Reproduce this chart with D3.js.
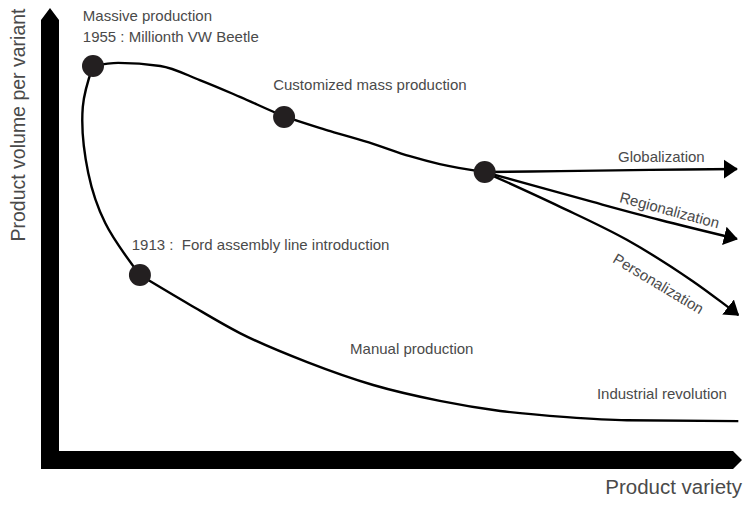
<!DOCTYPE html>
<html>
<head>
<meta charset="utf-8">
<script src="https://cdn.jsdelivr.net/npm/d3@7"></script>
<style>
  body { margin: 0; background: #fff; }
  svg { display: block; }
  text { font-family: 'Liberation Sans', Arial, sans-serif; fill: #4a4a4a; }
</style>
</head>
<body>
<div id="chart"></div>
<script>
// conceptual chart: both axes run 0..100 (no units shown)
// Ford 1913 -> industrial revolution (x increasing)
const industrialCurve = [
  [11.9, 40.0], [19.3, 33.2], [26.6, 26.8], [36.5, 20.2], [46.2, 15.0], [56.0, 11.4],
  [64.9, 9.1], [74.7, 7.7], [83.5, 7.0], [99.9, 6.8]
];
// Ford 1913 -> massive production
const manualCurve = [[11.9, 40.0], [6.8, 51.8], [4.3, 63.2], [3.5, 78.2], [5.0, 87.5]];
// massive production -> customized -> branch point
const massCurve = [
  [5.0, 87.5], [8.7, 88.2], [14.9, 87.5], [20.7, 84.3], [26.6, 80.5], [33.1, 76.1],
  [39.9, 72.7], [46.2, 69.8], [51.6, 67.0], [56.0, 65.2], [62.6, 63.4]
];
const globalization = [[62.6, 63.4], [73.7, 63.6], [86.9, 63.9], [99.7, 64.1]];
const regionalization = [[62.6, 63.4], [78.5, 56.6], [88.4, 52.5], [99.7, 48.2]];
const personalization = [[62.6, 63.4], [73.7, 55.5], [83.5, 48.0], [93.2, 38.6], [99.9, 30.9]];

const milestones = [[5.0, 87.5], [33.1, 75.9], [62.6, 63.4], [11.9, 40.0]];

const labels = ['Massive production', '1955 : Millionth VW Beetle', 'Customized mass production',
  'Globalization', 'Regionalization', 'Personalization',
  '1913 :  Ford assembly line introduction', 'Manual production', 'Industrial revolution'];
const labelX = [3.5, 3.5, 31.5, 82.2, 82.3, 81.3, 10.7, 42.8, 79.1];
const labelY = [97.7, 93.0, 82.0, 65.7, 56.6, 43.0, 45.7, 22.0, 11.8];
const labelAngle = [0, 0, 0, 0, 15, 31, 0, 0, 0];

const xTitle = 'Product variety';
const yTitle = 'Product volume per variant';

const width = 745, height = 505;
const axisW = 18;

const svg = d3.select('#chart').append('svg')
  .attr('width', width)
  .attr('height', height);

const x = d3.scaleLinear().domain([0, 100]).range([59, 739]);
const y = d3.scaleLinear().domain([0, 100]).range([451, 11]);

// thick L-shaped axes with pointed ends
const x0 = x.range()[0], y0 = y.range()[0];
const axisPath = d3.path();
axisPath.moveTo(x0 - axisW, y0 + axisW);
axisPath.lineTo(x0 - axisW, 20);
axisPath.lineTo(x0 - axisW / 2, 8);
axisPath.lineTo(x0, 20);
axisPath.lineTo(x0, y0);
axisPath.lineTo(733, y0);
axisPath.lineTo(742, y0 + axisW / 2);
axisPath.lineTo(733, y0 + axisW);
axisPath.closePath();
svg.append('path').attr('d', axisPath.toString()).attr('fill', '#000');

// arrow marker
svg.append('defs').append('marker')
  .attr('id', 'head')
  .attr('viewBox', '0 -10 14 20')
  .attr('refX', 13)
  .attr('refY', 0)
  .attr('markerUnits', 'userSpaceOnUse')
  .attr('markerWidth', 14)
  .attr('markerHeight', 20)
  .attr('orient', 'auto')
  .append('path')
  .attr('d', 'M0,-9.5L14,0L0,9.5Z')
  .attr('fill', '#000');

const smooth = d3.line()
  .x(d => x(d[0]))
  .y(d => y(d[1]))
  .curve(d3.curveCatmullRom.alpha(0.5));
const mono = d3.line()
  .x(d => x(d[0]))
  .y(d => y(d[1]))
  .curve(d3.curveMonotoneX);

const drawLine = (gen, data, arrow) => {
  const p = svg.append('path').attr('d', gen(data))
    .attr('fill', 'none').attr('stroke', '#000').attr('stroke-width', 2.4);
  if (arrow) p.attr('marker-end', 'url(#head)');
};

drawLine(mono, industrialCurve, false);
drawLine(smooth, manualCurve, false);
drawLine(mono, massCurve, false);
drawLine(smooth, globalization, true);
drawLine(smooth, regionalization, true);
drawLine(smooth, personalization, true);

svg.append('g').selectAll('circle')
  .data(milestones)
  .enter()
  .append('circle')
  .attr('cx', d => x(d[0]))
  .attr('cy', d => y(d[1]))
  .attr('r', 11)
  .attr('fill', '#231f20');

svg.append('g').selectAll('text')
  .data(labels)
  .enter()
  .append('text')
  .attr('transform', (d, i) => `translate(${x(labelX[i])},${y(labelY[i])}) rotate(${labelAngle[i]})`)
  .attr('font-size', '15px')
  .style('white-space', 'pre')
  .text(d => d);

// axis titles
svg.append('text')
  .attr('text-anchor', 'end')
  .attr('x', 742)
  .attr('y', 494)
  .attr('font-size', '20.5px')
  .text(xTitle);

svg.append('text')
  .attr('text-anchor', 'middle')
  .attr('transform', 'translate(25,125) rotate(-90)')
  .attr('font-size', '19.5px')
  .text(yTitle);
</script>
</body>
</html>
